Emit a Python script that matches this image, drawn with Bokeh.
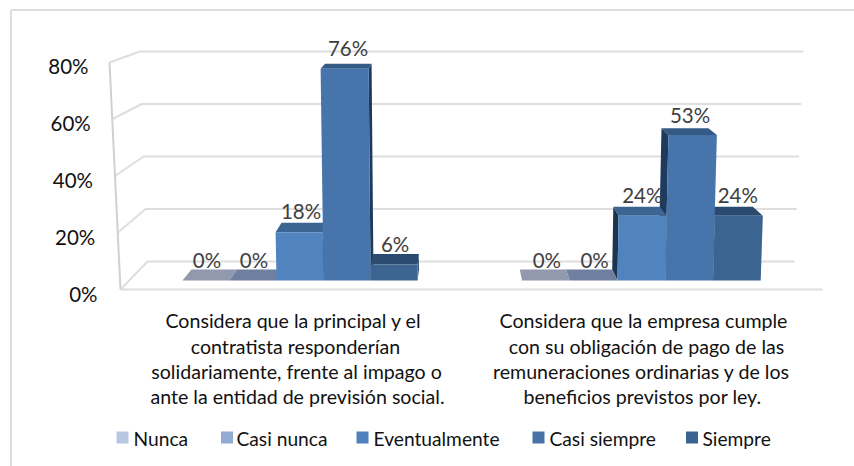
from bokeh.embed import file_html
from bokeh.models import Range1d
from bokeh.plotting import figure
from bokeh.resources import INLINE
from bokeh.core.properties import value

# ---- data ----
series = ["Nunca", "Casi nunca", "Eventualmente", "Casi siempre", "Siempre"]
group_a = [0, 0, 18, 76, 6]
group_b = [0, 0, 24, 53, 24]
y_ticks = [0, 20, 40, 60, 80]
cat_a = ["Considera que la principal y el", "contratista responderían",
         "solidariamente, frente al impago o", "ante la entidad de previsión social."]
cat_b = ["Considera que la empresa cumple", "con su obligación de pago de las",
         "remuneraciones ordinarias y de los", "beneficios previstos por ley."]

# ---- styles ----
legend_cols = ["#B9C6E1", "#93AAD2", "#4F81BD", "#4672A8", "#3A6292"]
front_cols = ["#9298AD", "#6E7F9F", "#5183BF", "#4674AB", "#3B6491"]
top_cols = ["#9298AD", "#6E7F9F", "#3C6593", "#355A85", "#2A4A70"]
side_cols = ["#7A8098", "#5A6A8A", "#1B3550", "#1E3A5C", "#2A4A70"]
GRID = "#DEDEDE"
FONT = "Lato"

# Placement of the 3D scene, in pixels of the 854x466 page
X0, XU, Y0, YU = 181.0, 47.75, 280.0, 2.75
VP = 457.0
GROUP_A_SLOT, GROUP_A_WIDTH = 0.02, 0.985
GROUP_B_SLOT, GROUP_B_WIDTH = 7.13, 1.0


def dx(px):
    return (px - X0) / XU


def dy(py):
    return (Y0 - py) / YU


def project(slot, v, depth):
    """Slot (bar units) + value (%) + depth 0..1 to data coordinates."""
    px = X0 + XU * slot
    px += (px - VP) * v * 0.00029
    py = Y0 - v * (2.65 + 0.0018 * v)
    px -= (px - VP) * 0.0327 * depth
    py -= (11 - 0.08 * v) * depth
    return dx(px), dy(py)


p = figure(width=854, height=466, output_backend="svg", toolbar_location=None,
           x_range=Range1d(dx(0), dx(854)), y_range=Range1d(dy(466), dy(0)),
           x_axis_location=None, y_axis_location=None, min_border=0,
           outline_line_color=None, background_fill_color="white")
p.xgrid.visible = False
p.ygrid.visible = False

# outer frame
p.line([dx(10.5), dx(10.5)], [dy(466), dy(9.5)], line_color=GRID, line_width=2)
p.line([dx(10.5), dx(854)], [dy(9.5), dy(9.5)], line_color=GRID, line_width=2)

# walls, floor, gridlines
for t in y_ticks:
    rear_y = dy(261 - 2.625 * t)
    rx0 = dx(147 - 0.0975 * t)
    rx1 = dx(794 + 0.11 * t)
    fx = dx(120 - 0.1375 * t)
    fy = dy(289 - 2.8375 * t)
    p.line([fx, rx0, rx1], [fy, rear_y, rear_y], line_color=GRID, line_width=2)
    p.text([dx(97 - 0.1125 * t)], [dy(293 - 2.84 * t)], text=[f"{t}%"],
           text_align="right", text_baseline="middle", text_color="#111111",
           text_font=value(FONT), text_font_size="20.5px")
fx_top = 120 - 0.1375 * y_ticks[-1]
fy_top = 289 - 2.8375 * y_ticks[-1]
p.line([dx(120), dx(fx_top)], [dy(289), dy(fy_top)], line_color="#D0D0D0", line_width=2)
p.line([dx(120), dx(822)], [dy(289), dy(289)], line_color=GRID, line_width=2)


def bar_faces(slot, width, v, i, side):
    faces = []
    x0, x1 = slot, slot + width
    fl = project(x0, v, 0)
    fr = project(x1, v, 0)
    bl = project(x0, v, 1)
    br = project(x1, v, 1)
    if v > 0:
        # visible side wall towards the centre of the view
        xs = x1 if side == "right" else x0
        top_f = project(xs, v, 0)
        top_b = project(xs, v, 1)
        base_f = project(xs, 0, 0)
        base_b = project(xs, 0, 1)
        faces.append(([top_f[0], top_b[0], base_b[0], base_f[0]],
                      [top_f[1], top_b[1], base_b[1], base_f[1]], side_cols[i]))
    faces.append(([fl[0], bl[0], br[0], fr[0]], [fl[1], bl[1], br[1], fr[1]], top_cols[i]))
    if v > 0:
        b0 = project(x0, 0, 0)
        b1 = project(x1, 0, 0)
        faces.append(([fl[0], fr[0], b1[0], b0[0]], [fl[1], fr[1], b1[1], b0[1]], front_cols[i]))
    return faces


faces = []
for i in range(len(series)):
    faces += bar_faces(GROUP_A_SLOT + i * GROUP_A_WIDTH, GROUP_A_WIDTH, group_a[i], i, "right")
for i in reversed(range(len(series))):
    faces += bar_faces(GROUP_B_SLOT + i * GROUP_B_WIDTH, GROUP_B_WIDTH, group_b[i], i, "left")
p.patches([f[0] for f in faces], [f[1] for f in faces],
          fill_color=[f[2] for f in faces], line_color=None)

# data labels
lx, ly, lt = [], [], []
for start, width, vals in ((GROUP_A_SLOT, GROUP_A_WIDTH, group_a), (GROUP_B_SLOT, GROUP_B_WIDTH, group_b)):
    for i, v in enumerate(vals):
        centre = start + (i + 0.5) * width
        bx, by = project(centre, v, 1)
        lx.append(centre + 1.0 / XU)
        ly.append(by + (10 + 0.07 * v) / YU)
        lt.append(f"{v}%")
p.text(lx, ly, text=lt, text_align="center", text_baseline="middle",
       text_color="#404040", text_font=value(FONT), text_font_size="20.5px")

# category labels
line_y = [320, 346, 371, 396]
for lines, centres in ((cat_a, [293, 295, 296, 297]), (cat_b, [643, 646, 641, 642])):
    p.text([dx(c) for c in centres], [dy(y) for y in line_y], text=lines,
           text_align="center", text_baseline="middle", text_color="#111111",
           text_font=value(FONT), text_font_size="19.6px")

# legend
sq_x = [116, 220.5, 356, 532, 685.5]
tx_x = [133, 236, 373, 549, 702]
for sx, tx, name, col in zip(sq_x, tx_x, series, legend_cols):
    p.patches([[dx(sx), dx(sx + 12), dx(sx + 12), dx(sx)]],
              [[dy(431), dy(431), dy(443), dy(443)]], fill_color=col, line_color=None)
    p.text([dx(tx)], [dy(438)], text=[name], text_align="left", text_baseline="middle",
           text_color="#111111", text_font=value(FONT), text_font_size="19.2px")

open("out.html", "w").write(file_html(p, INLINE))
